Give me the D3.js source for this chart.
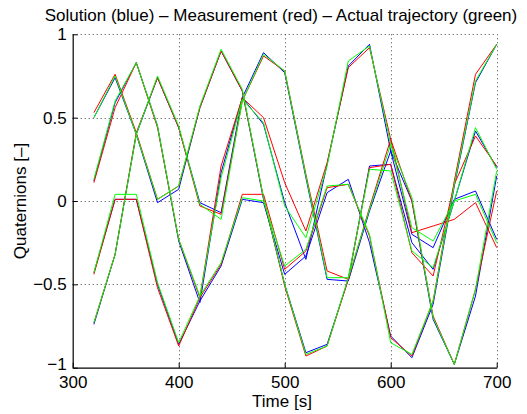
<!DOCTYPE html>
<html>
<head>
<meta charset="utf-8">
<script src="https://cdn.jsdelivr.net/npm/d3@7"></script>
<style>
  body { margin: 0; background: #fff; }
  text { font-family: "Liberation Sans", Arial, Helvetica, sans-serif; }
</style>
</head>
<body>
<div id="chart"></div>
<script>
// Time stamps [s]
const times = [320, 340, 360, 380, 400, 420, 440, 460, 480, 500,
               520, 540, 560, 580, 600, 620, 640, 660, 680, 700];

// Solution (blue), one row per quaternion component
const solution = [
    [0.50, 0.74, 0.40, -0.01, 0.07, 0.56, 0.90, 0.66, 0.01, -0.50, -0.91, -0.86, -0.47, 0.21, 0.22, -0.25, -0.41, 0.00, 0.42, 0.20],
    [0.12, 0.59, 0.83, 0.45, -0.24, -0.61, 0.17, 0.62, 0.46, -0.01, -0.35, 0.22, 0.81, 0.94, 0.30, 0.00, -0.71, -0.98, -0.57, 0.15],
    [-0.43, 0.01, 0.01, -0.50, -0.86, -0.60, -0.39, 0.01, -0.01, -0.44, -0.33, 0.05, 0.13, -0.25, -0.81, -0.94, -0.62, 0.09, 0.71, 0.94],
    [-0.74, -0.32, 0.40, 0.74, 0.44, -0.01, -0.07, 0.62, 0.89, 0.77, 0.14, -0.47, -0.48, -0.06, 0.30, -0.20, -0.28, 0.01, 0.06, -0.23]
];

// Measurement (red)
const measurement = [
    [0.53, 0.76, 0.41, 0.01, 0.09, 0.56, 0.90, 0.66, 0.02, -0.51, -0.93, -0.87, -0.47, 0.20, 0.22, -0.31, -0.45, 0.10, 0.39, 0.21],
    [0.11, 0.56, 0.83, 0.44, -0.23, -0.58, 0.21, 0.62, 0.50, 0.11, -0.18, 0.23, 0.80, 0.92, 0.37, 0.00, -0.69, -0.98, -0.53, 0.06],
    [-0.44, 0.01, 0.01, -0.52, -0.87, -0.58, -0.38, 0.04, 0.04, -0.41, -0.30, 0.08, 0.10, -0.21, -0.82, -0.93, -0.60, 0.12, 0.76, 0.94],
    [-0.73, -0.32, 0.41, 0.74, 0.44, -0.03, -0.08, 0.60, 0.87, 0.78, 0.16, -0.42, -0.47, -0.04, 0.37, -0.19, -0.15, -0.11, -0.01, -0.28]
];

// Actual trajectory (green)
const actual = [
    [0.50, 0.75, 0.40, 0.01, 0.09, 0.57, 0.91, 0.67, 0.02, -0.50, -0.92, -0.87, -0.46, 0.19, 0.18, -0.30, -0.40, 0.00, 0.44, 0.19],
    [0.13, 0.60, 0.83, 0.45, -0.23, -0.57, 0.14, 0.61, 0.47, -0.03, -0.22, 0.21, 0.84, 0.93, 0.34, 0.02, -0.70, -0.98, -0.53, 0.18],
    [-0.43, 0.04, 0.04, -0.49, -0.85, -0.57, -0.37, 0.02, 0.00, -0.39, -0.29, 0.09, 0.10, -0.20, -0.85, -0.92, -0.60, 0.10, 0.72, 0.94],
    [-0.73, -0.32, 0.40, 0.75, 0.45, -0.02, -0.11, 0.60, 0.88, 0.78, 0.15, -0.46, -0.46, -0.05, 0.34, -0.16, -0.24, 0.00, 0.04, -0.25]
];

const xTicks = [300, 400, 500, 600, 700];
const yTicks = [-1, -0.5, 0, 0.5, 1];

const width = 527, height = 414;
const plotLeft = 72.7, plotRight = 496.7, plotTop = 34.3, plotBottom = 367.7;

const svg = d3.select("#chart")
    .append("svg")
    .attr("width", width)
    .attr("height", height);

const x = d3.scaleLinear().domain([300, 700]).range([plotLeft, plotRight]);
const y = d3.scaleLinear().domain([-1, 1]).range([plotBottom, plotTop]);

// dotted grid
const grid = svg.append("g").attr("class", "grid");
grid.selectAll("line.gx")
    .data(xTicks.slice(1))
    .enter()
    .append("line")
    .attr("x1", d => Math.round(x(d)) + 0.5)
    .attr("x2", d => Math.round(x(d)) + 0.5)
    .attr("y1", plotTop)
    .attr("y2", plotBottom)
    .attr("stroke", "#444")
    .attr("stroke-width", 1)
    .attr("stroke-dasharray", "1,3");

grid.selectAll("line.gy")
    .data(yTicks.slice(1))
    .enter()
    .append("line")
    .attr("x1", plotLeft)
    .attr("x2", plotRight)
    .attr("y1", d => Math.round(y(d)) + 0.5)
    .attr("y2", d => Math.round(y(d)) + 0.5)
    .attr("stroke", "#444")
    .attr("stroke-width", 1)
    .attr("stroke-dasharray", "1,3");

// series: blue first, then red, green on top
const line = d3.line()
    .x((d, i) => x(times[i]))
    .y(d => y(d));

const groups = [
    { data: solution, color: "#0000ff" },
    { data: measurement, color: "#ff0000" },
    { data: actual, color: "#00ff00" }
];

groups.forEach(g => {
    svg.append("g")
        .selectAll("path")
        .data(g.data)
        .enter()
        .append("path")
        .attr("d", line)
        .attr("fill", "none")
        .attr("stroke", g.color)
        .attr("stroke-width", 1)
        .attr("stroke-linejoin", "miter");
});

// axes, ticks pointing inward
const xAxis = svg.append("g")
    .attr("transform", `translate(0,${plotBottom})`)
    .call(d3.axisBottom(x).tickValues(xTicks).tickSize(-5).tickPadding(8).tickSizeOuter(0).tickFormat(d3.format("d")));

const yAxis = svg.append("g")
    .attr("transform", `translate(${plotLeft},0)`)
    .call(d3.axisLeft(y).tickValues(yTicks).tickSize(-5).tickPadding(6).tickSizeOuter(0).tickFormat(d3.format("~g")));

[xAxis, yAxis].forEach(a => {
    a.select(".domain").attr("stroke", "#000").attr("stroke-width", 1.2);
    a.selectAll(".tick line").attr("stroke", "#000");
    a.selectAll(".tick text")
        .attr("fill", "#000")
        .attr("font-size", "17px")
        .attr("font-family", "'Liberation Sans', Arial, sans-serif");
});

// the lowest y label sits a little higher so it clears the "300" below it
yAxis.selectAll(".tick")
    .filter(d => d === -1)
    .select("text")
    .attr("dy", "0.1em");

// title and axis labels
svg.append("text")
    .attr("x", 281)
    .attr("y", 21)
    .attr("text-anchor", "middle")
    .attr("font-size", "17px")
    .text("Solution (blue) \u2013 Measurement (red) \u2013 Actual trajectory (green)");

svg.append("text")
    .attr("x", 282)
    .attr("y", 407)
    .attr("text-anchor", "middle")
    .attr("font-size", "17px")
    .text("Time [s]");

svg.append("text")
    .attr("transform", `translate(26,${(plotTop + plotBottom) / 2}) rotate(-90)`)
    .attr("text-anchor", "middle")
    .attr("font-size", "17px")
    .text("Quaternions [\u2013]");
</script>
</body>
</html>
